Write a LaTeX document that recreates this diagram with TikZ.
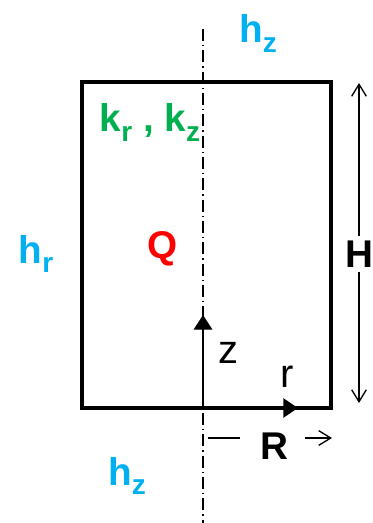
\documentclass[tikz,border=0pt]{standalone}
\usepackage{fontspec}
\setmainfont{Liberation Sans}
\usetikzlibrary{arrows.meta}
\definecolor{hblue}{RGB}{0,176,240}
\definecolor{kgreen}{RGB}{0,176,80}
\newcommand{\lowsub}[1]{\raisebox{-7pt}{\fontsize{21}{22}\selectfont #1}}

\begin{document}
\begin{tikzpicture}[x=0.75pt, y=-0.75pt,
        lab/.style={font=\fontsize{29}{31}\selectfont\bfseries, anchor=base},
        axlab/.style={font=\fontsize{30}{32}\selectfont, anchor=base},
        dim/.style={line width=1pt, -{Straight Barb[length=9pt, width=11pt]}}]
            \useasboundingbox (0,0) rectangle (372,523);
            \coordinate (A) at (82,82);
            \coordinate (B) at (82,408);
            \coordinate (C) at (331,408);
            \coordinate (D) at (331,82);
            \coordinate (O) at (203,408);
            \coordinate (T) at (203,29);
            \coordinate (U) at (203,523);
            \coordinate (Z) at (203,315);
            \coordinate (E) at (298,408);
            \coordinate (Ht) at (359,83);
            \coordinate (Hb) at (359,403);
            \coordinate (R1) at (208,438);
            \coordinate (R2) at (240,438);
            \coordinate (R3) at (305,438);
            \coordinate (R4) at (332,438);
            % axis and body
            \draw[line width=1pt, dash pattern=on 9pt off 3pt on 1pt off 3pt] (T) -- (U);
            \draw[line width=3.3pt] (A) -- (B) -- (C) -- (D) -- cycle;
            \draw[line width=1pt, -{Triangle[length=11pt, width=14pt]}] (O) -- (Z);
            \draw[line width=3.3pt, -{Triangle[length=11pt, width=14pt]}] (O) -- (E);
            % dimensions
            \node[font=\fontsize{29}{31}\selectfont\bfseries] (H) at (359,254) {H};
            \draw[dim] (H) -- (Ht);
            \draw[dim] (H) -- (Hb);
            \draw[line width=1pt] (R1) -- (R2);
            \draw[dim] (R3) -- (R4);
            \node[lab] (R) at (274,459) {R};
            % labels
            \node[axlab] (z) at (228,363) {z};
            \node[axlab] (r) at (287,387) {r};
            \node[lab, text=hblue] (hzt) at (258,43) {h\lowsub{z}};
            \node[lab, text=hblue] (hr) at (36,263) {h\lowsub{r}};
            \node[lab, text=hblue] (hzb) at (127,485) {h\lowsub{z}};
            \node[lab, text=kgreen] (k) at (150,132) {k\lowsub{r} , k\lowsub{z}};
            \node[lab, text=red] (Q) at (163,258) {Q};
        \end{tikzpicture}
\end{document}
